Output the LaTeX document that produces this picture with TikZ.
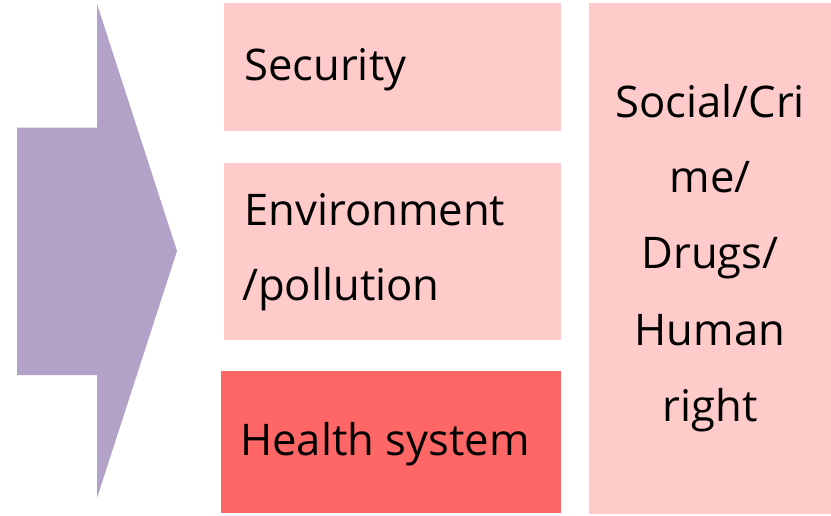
\documentclass[tikz,border=0pt]{standalone}
\usepackage{fontspec}
\usetikzlibrary{fit}
\newfontfamily\labelfont{Open Sans}
\definecolor{arrowpurple}{HTML}{B3A2C7}
\definecolor{lightpink}{HTML}{FFCACA}
\definecolor{redbox}{HTML}{FF6666}
\begin{document}
\begin{tikzpicture}[x=0.75pt,y=-0.75pt,
  box/.style={inner sep=0pt,outer sep=0pt,draw=none},
  lbl/.style={font=\labelfont\fontsize{32.7}{40}\selectfont,inner sep=0pt,anchor=base west},
  clbl/.style={font=\labelfont\fontsize{32.7}{40}\selectfont,inner sep=0pt,anchor=base}]
\useasboundingbox (0,0) rectangle (831,515);
% arrow
\fill[arrowpurple] (17,127.5) -- (97,127.5) -- (97,4) -- (177,251) -- (97,498) -- (97,375) -- (17,375) -- cycle;
% boxes
\node[box,fill=lightpink,fit={(224,3) (561,131)}] (sec) {};
\node[box,fill=lightpink,fit={(224,163) (561,340)}] (env) {};
\node[box,fill=redbox,fit={(221,371) (561,513)}] (health) {};
\node[box,fill=lightpink,fit={(589,3) (831,514)}] (soc) {};
% labels
\node[lbl] (tsec) at (244,80) {Security};
\node[lbl] (tenv1) at (244,225) {Environment};
\node[lbl] (tenv2) at (242,300) {/pollution};
\node[lbl] (thealth) at (240,455) {Health system};
\node[clbl] (ts1) at (710,117) {Social/Cri};
\node[clbl] (ts2) at (710,192) {me/};
\node[clbl] (ts3) at (710,268) {Drugs/};
\node[clbl] (ts4) at (710,345) {Human};
\node[clbl] (ts5) at (710,421) {right};
\end{tikzpicture}
\end{document}
